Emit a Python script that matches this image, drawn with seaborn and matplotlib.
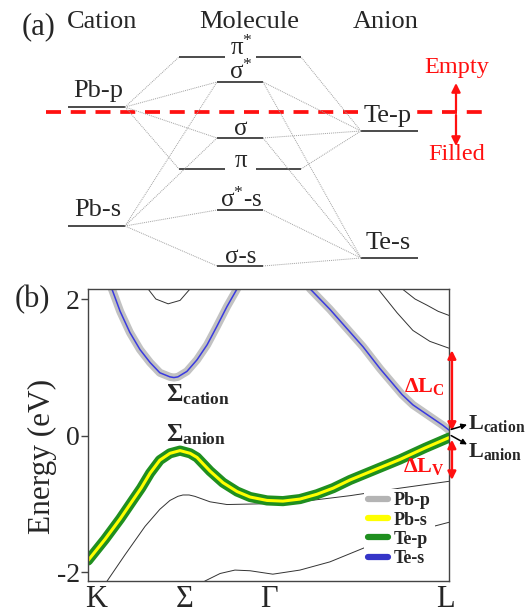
import matplotlib.pyplot as plt
import numpy as np
import seaborn as sns
from matplotlib.lines import Line2D

sns.set_style("ticks")
plt.rcParams["font.family"] = ["Liberation Serif", "DejaVu Serif"]
plt.rcParams["mathtext.fontset"] = "custom"
plt.rcParams["mathtext.rm"] = "Liberation Serif"
plt.rcParams["mathtext.it"] = "Liberation Serif:italic"
plt.rcParams["mathtext.bf"] = "Liberation Serif:bold"

# ---------------- panel (a): level diagram (diagram units, y grows downward)
cation_names = ["Pb-p", "Pb-s"]
cation_y = [107, 226]
anion_names = ["Te-p", "Te-s"]
anion_y = [131, 258]
mol_names = [r"$\mathrm{π}^{*}$", r"$\mathrm{σ}^{*}$", "σ", "π",
             r"$\mathrm{σ}^{*}\text{-s}$", "σ-s"]
mol_y = [57, 82, 138, 169, 210, 266]
mol_split = [True, False, False, True, False, False]
cation_links = [[0, 1, 2, 3], [1, 2, 4, 5]]
anion_links = [[0, 1, 2, 3], [1, 2, 4, 5]]
fermi_y = 112

# ---------------- panel (b): bands, k from K (0) to L (1), energy in eV
k_points = [0.022, 0.269, 0.5, 0.989]
k_labels = ["K", "Σ", "Γ", "L"]

val_k = [0.0, 0.047, 0.089, 0.125, 0.147, 0.172, 0.199, 0.227, 0.255, 0.283,
         0.302, 0.338, 0.374, 0.413, 0.449, 0.496, 0.540, 0.587, 0.634, 0.679,
         0.726, 0.795, 0.864, 0.934, 1.0]
val_e = [-1.83, -1.52, -1.22, -0.94, -0.77, -0.55, -0.36, -0.26, -0.22, -0.26,
         -0.32, -0.52, -0.69, -0.82, -0.90, -0.95, -0.96, -0.93, -0.86, -0.77,
         -0.65, -0.50, -0.35, -0.18, -0.03]

con_k = [0.055, 0.066, 0.089, 0.116, 0.144, 0.172, 0.199, 0.227, 0.238, 0.249,
         0.274, 0.302, 0.330, 0.357, 0.385, 0.413, 0.435, 0.510, 0.587, 0.615,
         0.670, 0.762, 0.809, 0.870, 0.900, 0.947, 0.983, 1.0]
con_e = [2.35, 2.15, 1.82, 1.51, 1.26, 1.07, 0.92, 0.86, 0.85, 0.86,
         0.94, 1.11, 1.33, 1.60, 1.89, 2.15, 2.45, 3.0, 2.45, 2.15,
         1.85, 1.30, 0.98, 0.60, 0.45, 0.28, 0.15, 0.08]

top_s_k = [0.152, 0.166, 0.188, 0.222, 0.255, 0.283, 0.296]
top_s_e = [2.3, 2.15, 2.0, 1.93, 1.98, 2.15, 2.3]
top_a_k = [0.859, 0.870, 0.906, 0.939, 0.970, 1.0]
top_a_e = [2.25, 2.15, 2.0, 1.91, 1.82, 1.76]
top_b_k = [0.787, 0.803, 0.856, 0.900, 0.947, 1.0]
top_b_e = [2.25, 2.15, 1.80, 1.54, 1.38, 1.28]
low1_k = [0.033, 0.053, 0.102, 0.158, 0.199, 0.227, 0.249, 0.263, 0.280, 0.296,
          0.338, 0.385, 0.476, 0.587, 0.726, 0.864, 1.0]
low1_e = [-2.3, -2.13, -1.75, -1.33, -1.08, -0.95, -0.89, -0.87, -0.87, -0.89,
          -0.97, -1.01, -1.0, -0.97, -0.88, -0.77, -0.67]
low2_k = [0.296, 0.324, 0.366, 0.407, 0.449, 0.512, 0.587, 0.670, 0.781, 0.892, 1.0]
low2_e = [-2.3, -2.13, -2.02, -1.97, -1.98, -2.03, -1.97, -1.85, -1.61, -1.42, -1.27]

legend_labels = ["Pb-p", "Pb-s", "Te-p", "Te-s"]
legend_colors = ["#b4b4b4", "#ffff00", "#1f8f1f", "#3535c8"]

fig = plt.figure(figsize=(5.25, 6.15), dpi=100)

# ---- (a)
ax_a = fig.add_axes([0, 1 - 280 / 615, 1, 280 / 615])
ax_a.set_xlim(0, 525)
ax_a.set_ylim(280, 0)
ax_a.axis("off")

cat_x = (68, 125)
ani_x = (361, 418)
mol_x = (217, 263)
split_l = (179, 225)
split_r = (256, 301)
lev_kw = dict(color="#1a1a1a", lw=1.1, solid_capstyle="butt")
link_kw = dict(color="#a0a0a0", lw=0.7, ls=(0, (1, 1)))

ax_a.plot([46, 483], [fermi_y, fermi_y], color="#ff1010", lw=2.7, dashes=(4, 2.6),
          zorder=1)

mol_left = []
mol_right = []
for name, y, split in zip(mol_names, mol_y, mol_split):
    if split:
        ax_a.plot(split_l, [y, y], **lev_kw)
        ax_a.plot(split_r, [y, y], **lev_kw)
        mol_left.append(split_l[0])
        mol_right.append(split_r[1])
        ax_a.text(241, y - 2, name, ha="center", va="baseline", fontsize=18)
    else:
        ax_a.plot(mol_x, [y, y], **lev_kw)
        mol_left.append(mol_x[0])
        mol_right.append(mol_x[1])
        ax_a.text(241, y - 3, name, ha="center", va="baseline", fontsize=18)

for name, y, links in zip(cation_names, cation_y, cation_links):
    ax_a.plot(cat_x, [y, y], **lev_kw)
    ax_a.text(98, y - 10, name, ha="center", va="baseline", fontsize=19)
    for m in links:
        ax_a.plot([cat_x[1], mol_left[m]], [y, mol_y[m]], **link_kw)

for name, y, links in zip(anion_names, anion_y, anion_links):
    ax_a.plot(ani_x, [y, y], **lev_kw)
    ax_a.text(388, y - 9, name, ha="center", va="baseline", fontsize=19, zorder=4,
              bbox=dict(boxstyle="square,pad=0.05", fc="white", ec="none"))
    for m in links:
        ax_a.plot([ani_x[0], mol_right[m]], [y, mol_y[m]], **link_kw)

ax_a.annotate("", xy=(456, 83), xytext=(456, fermi_y - 1),
              arrowprops=dict(arrowstyle="-|>", color="#ff1010", lw=1.6,
                              mutation_scale=13, shrinkA=0, shrinkB=0))
ax_a.annotate("", xy=(456, 146), xytext=(456, fermi_y + 3),
              arrowprops=dict(arrowstyle="-|>", color="#ff1010", lw=1.6,
                              mutation_scale=13, shrinkA=0, shrinkB=0))
ax_a.text(457, 68, "Empty", color="#ff1010", ha="center", va="center", fontsize=17.5)
ax_a.text(457, 155, "Filled", color="#ff1010", ha="center", va="center", fontsize=17.5)

ax_a.text(39, 27, "(a)", ha="center", va="center", fontsize=22)
ax_a.text(102, 28, "Cation", ha="center", va="baseline", fontsize=19)
ax_a.text(249, 28, "Molecule", ha="center", va="baseline", fontsize=19)
ax_a.text(386, 28, "Anion", ha="center", va="baseline", fontsize=19)

# ---- (b)
ax = fig.add_axes([88 / 525, 1 - 581 / 615, 361 / 525, 292 / 615])
ax.set_xlim(0, 1)
ax.set_ylim(-2.13, 2.147)

thin_kw = dict(color="#333333", linewidth=0.7, sort=False, estimator=None, legend=False)
for kk, ee in [(top_s_k, top_s_e), (top_a_k, top_a_e), (top_b_k, top_b_e),
               (low1_k, low1_e), (low2_k, low2_e)]:
    sns.lineplot(x=kk, y=ee, ax=ax, **thin_kw)

sns.lineplot(x=con_k, y=con_e, ax=ax, color="#c2c2c2", linewidth=5.8,
             sort=False, estimator=None, legend=False)
sns.lineplot(x=con_k, y=con_e, ax=ax, color="#3a3ae0", linewidth=1.1,
             sort=False, estimator=None, legend=False)
sns.lineplot(x=val_k, y=val_e, ax=ax, color=legend_colors[2], linewidth=7.3,
             sort=False, estimator=None, legend=False)
sns.lineplot(x=val_k, y=val_e, ax=ax, color=legend_colors[1], linewidth=2.2,
             sort=False, estimator=None, legend=False)
for line in ax.get_lines():
    line.set_solid_joinstyle("round")

ax.set_xticks(k_points)
ax.set_xticklabels(k_labels)
ax.set_yticks([-2, 0, 2])
ax.set_yticklabels(["-2", "0", "2"])
ax.tick_params(axis="y", direction="out", length=5, width=1, labelsize=20,
               pad=1, color="#444444")
ax.tick_params(axis="x", length=0, labelsize=22, pad=3)
for s in ax.spines.values():
    s.set_color("#444444")
    s.set_linewidth(1.0)
ax.set_xlabel("")
ax.set_ylabel("")

handles = [Line2D([0], [0], color=c, lw=4.5) for c in legend_colors]
ax.legend(handles, legend_labels, loc="lower right", bbox_to_anchor=(0.985, 0.005),
          frameon=True, facecolor="white", edgecolor="none", framealpha=1,
          prop={"weight": "bold", "size": 13}, handlelength=1.1,
          handletextpad=0.35, labelspacing=0.12, borderpad=0.2)

ax.text(0.216, 0.50, r"$\mathbf{Σ_{cation}}$", fontsize=18, va="baseline")
ax.text(0.216, -0.09, r"$\mathbf{Σ_{anion}}$", fontsize=18, va="baseline")
ax.text(0.989, 0.64, r"$\mathbf{ΔL_{C}}$", fontsize=16, color="#ff1010",
        ha="right", va="baseline")
ax.text(0.989, -0.53, r"$\mathbf{ΔL_{V}}$", fontsize=16, color="#ff1010",
        ha="right", va="baseline")
ax.text(1.053, 0.09, r"$\mathbf{L_{cation}}$", fontsize=16, va="baseline")
ax.text(1.053, -0.32, r"$\mathbf{L_{anion}}$", fontsize=16, va="baseline")

red_arrow = dict(arrowstyle="<|-|>", color="#ff1010", lw=1.8, mutation_scale=12,
                 shrinkA=0, shrinkB=0)
ax.annotate("", xy=(1.008, 1.25), xytext=(1.008, 0.07), arrowprops=red_arrow,
            annotation_clip=False)
ax.annotate("", xy=(1.008, -0.65), xytext=(1.008, -0.06), arrowprops=red_arrow,
            annotation_clip=False)
blk_arrow = dict(arrowstyle="-|>", color="black", lw=1.1, mutation_scale=8,
                 shrinkA=0, shrinkB=0)
ax.annotate("", xy=(1.05, 0.16), xytext=(1.006, 0.09), arrowprops=blk_arrow,
            annotation_clip=False)
ax.annotate("", xy=(1.05, -0.13), xytext=(1.006, 0.0), arrowprops=blk_arrow,
            annotation_clip=False)

fig.text(32 / 525, 1 - 300 / 615, "(b)", ha="center", va="center", fontsize=22)
fig.text(42 / 525, 1 - 456 / 615, "Energy (eV)", rotation=90, ha="center",
         va="center", fontsize=22.5)

fig.savefig("out.png", dpi=100)
